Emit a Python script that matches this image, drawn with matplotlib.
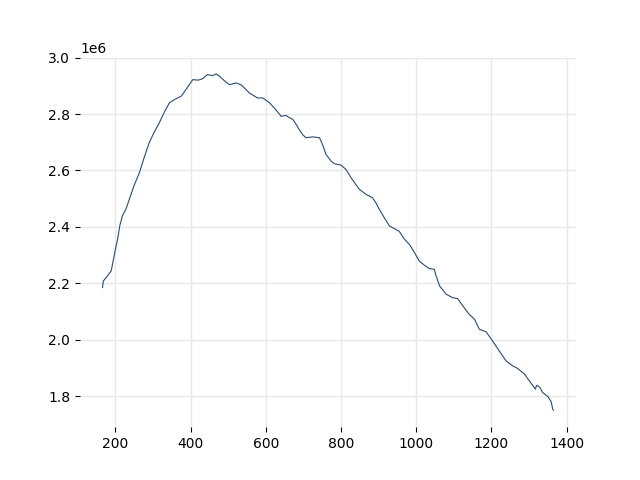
import matplotlib.pyplot as plt
import numpy as np

# values
x_vals = [166, 168, 180, 189, 195, 202, 206, 212, 219, 228, 237, 250, 264, 277,
          290, 303, 317, 330, 344, 357, 375, 388, 397, 406, 420, 432, 445, 458,
          468, 477, 490, 503, 521, 534, 545, 556, 567, 578, 592, 610, 625, 641,
          654, 663, 672, 681, 689, 698, 707, 725, 743, 751, 760, 774, 782, 800,
          813, 827, 838, 849, 867, 884, 893, 902, 915, 929, 942, 955, 969, 982,
          995, 1008, 1022, 1035, 1048, 1053, 1062, 1080, 1097, 1110, 1124, 1141,
          1155, 1168, 1186, 1203, 1221, 1239, 1257, 1270, 1288, 1301, 1317,
          1320, 1323, 1329, 1336, 1350, 1359, 1363, 1365]
y_vals = [2.185, 2.208, 2.228, 2.244, 2.285, 2.332, 2.356, 2.405, 2.440, 2.462,
          2.497, 2.547, 2.592, 2.647, 2.698, 2.735, 2.769, 2.806, 2.840, 2.851,
          2.863, 2.887, 2.905, 2.922, 2.920, 2.925, 2.940, 2.936, 2.942, 2.934,
          2.918, 2.904, 2.910, 2.904, 2.890, 2.875, 2.866, 2.857, 2.857, 2.840,
          2.818, 2.792, 2.795, 2.787, 2.781, 2.763, 2.745, 2.727, 2.716, 2.719,
          2.716, 2.692, 2.657, 2.633, 2.624, 2.619, 2.604, 2.574, 2.553, 2.533,
          2.515, 2.503, 2.485, 2.462, 2.433, 2.403, 2.394, 2.384, 2.356, 2.338,
          2.310, 2.279, 2.264, 2.252, 2.250, 2.226, 2.191, 2.161, 2.149, 2.146,
          2.120, 2.090, 2.073, 2.037, 2.028, 1.996, 1.960, 1.925, 1.907, 1.898,
          1.878, 1.854, 1.825, 1.838, 1.837, 1.831, 1.813, 1.799, 1.780, 1.754,
          1.750]

x = np.array(x_vals)
y = np.array(y_vals) * 1e6

fig, ax = plt.subplots(figsize=(6.4, 4.8), dpi=100)
ax.plot(x, y, color='#2b4b6f', linewidth=0.8)

ax.set_ylim(1.69e6, 3.0e6)
ax.grid(True, color='#e8e8e8', linewidth=1)
ax.set_axisbelow(True)
for s in ax.spines.values():
    s.set_visible(False)

fig.savefig('out.png')
